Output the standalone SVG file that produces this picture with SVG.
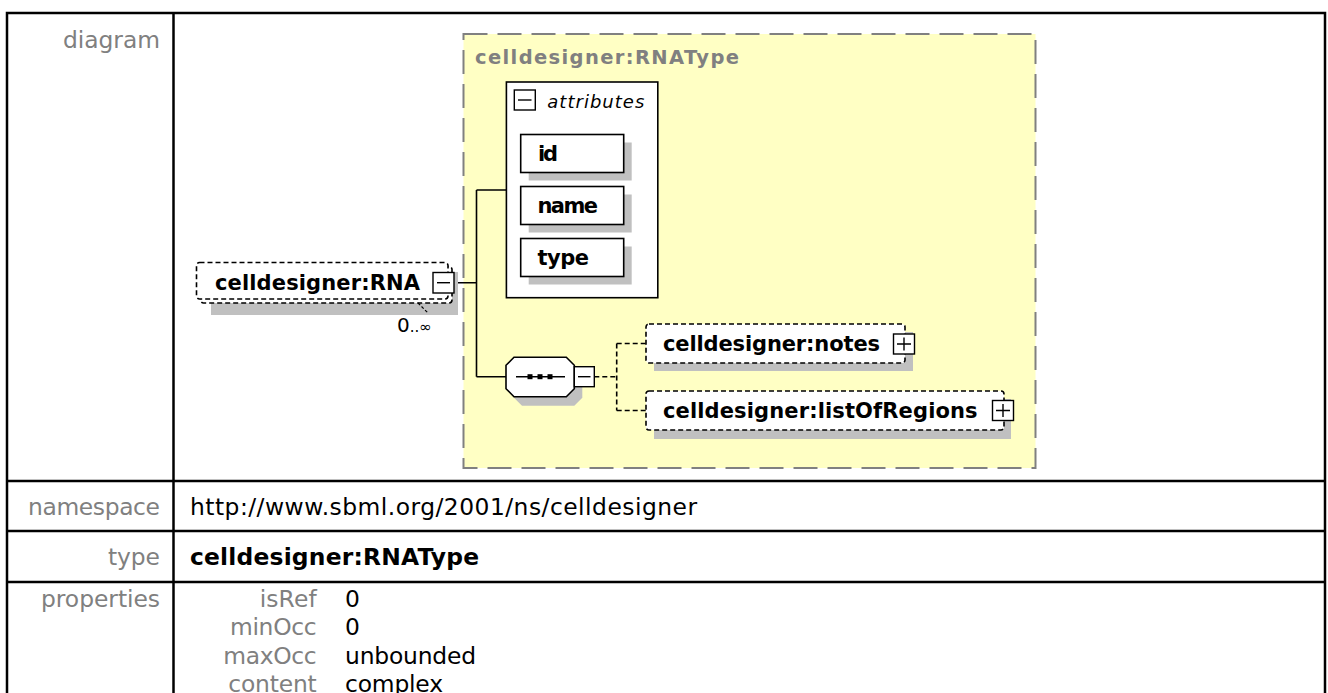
<svg xmlns="http://www.w3.org/2000/svg" width="1328" height="693" viewBox="0 0 1328 693">
<style>
.lbl{font-family:"DejaVu Sans",Verdana,sans-serif;font-size:23.4px;fill:#808080}
.val{font-family:"DejaVu Sans",Verdana,sans-serif;font-size:23.4px;fill:#000}
.grid{stroke:#000;stroke-width:2.5;fill:none}
.el{fill:#fff;stroke:#000;stroke-width:1.6;stroke-dasharray:5 3}
.box{fill:#fff;stroke:#000;stroke-width:1.6}
.shadow{fill:#c0c0c0}
.en{font-family:"DejaVu Sans",sans-serif;font-weight:bold;font-size:21px;fill:#000}
.conn{stroke:#000;stroke-width:1.6;fill:none}
.dconn{stroke:#000;stroke-width:1.6;fill:none;stroke-dasharray:5 3}
.icon{fill:#fff;stroke:#000;stroke-width:1.4}
.iline{stroke:#000;stroke-width:1.4}
</style>
<rect width="1328" height="693" fill="#fff"/>
<g id="table">
<rect class="grid" x="7" y="13" width="1318" height="700"/>
<line class="grid" x1="173.5" y1="13" x2="173.5" y2="693"/>
<line class="grid" x1="7" y1="481" x2="1325" y2="481"/>
<line class="grid" x1="7" y1="531" x2="1325" y2="531"/>
<line class="grid" x1="7" y1="582" x2="1325" y2="582"/>
<text class="lbl" x="160" y="48" text-anchor="end" textLength="97">diagram</text>
<text class="lbl" x="160" y="515" text-anchor="end" textLength="132">namespace</text>
<text class="lbl" x="160" y="565" text-anchor="end" textLength="52">type</text>
<text class="lbl" x="160" y="607" text-anchor="end" textLength="119">properties</text>
<text class="val" x="190" y="515" textLength="507">http://www.sbml.org/2001/ns/celldesigner</text>
<text class="val" x="190" y="565" font-weight="bold" textLength="289">celldesigner:RNAType</text>
<text class="lbl" x="316.7" y="607" text-anchor="end" textLength="57">isRef</text>
<text class="lbl" x="316.7" y="635.3" text-anchor="end" textLength="86.8">minOcc</text>
<text class="lbl" x="316.7" y="663.6" text-anchor="end" textLength="93.5">maxOcc</text>
<text class="lbl" x="316.7" y="692" text-anchor="end" textLength="88.4">content</text>
<text class="val" x="345" y="607">0</text>
<text class="val" x="345" y="635.3">0</text>
<text class="val" x="345" y="663.6" textLength="131">unbounded</text>
<text class="val" x="345" y="692" textLength="98">complex</text>
</g>
<g id="complexType">
<rect x="463.5" y="34" width="572" height="434" fill="#ffffc4" stroke="#808080" stroke-width="2" stroke-dasharray="24 10"/>
<text x="475" y="64" font-family="DejaVu Sans,sans-serif" font-weight="bold" font-size="19.5" fill="#808080" textLength="264">celldesigner:RNAType</text>
</g>
<g id="connectors">
<path class="conn" d="M454 282.7H476.5M476.5 190V376.7M476.5 190H506.4M476.5 376.7H506"/>
<path class="dconn" d="M594.3 376.7H616.7M616.7 343.5V410.5M616.7 343.5H646M616.7 410.5H646"/>
</g>
<g id="RNA">
<rect class="shadow" x="211" y="272" width="247" height="43"/>
<rect class="el" x="200.5" y="266.5" width="251.5" height="36.5" rx="3"/>
<rect class="el" x="196.5" y="262.5" width="251.5" height="36.5" rx="3"/>
<text class="en" x="215" y="290" textLength="205">celldesigner:RNA</text>
<rect class="icon" x="433" y="272.5" width="21" height="20.5"/>
<line class="iline" x1="437" y1="282.7" x2="450" y2="282.7"/>
<line x1="418" y1="303" x2="428" y2="313" stroke="#000" stroke-width="1.2" stroke-dasharray="3 2"/>
<text x="397" y="332" font-family="DejaVu Sans,sans-serif" font-size="20" fill="#000">0<tspan font-size="15">..∞</tspan></text>
</g>
<g id="attributes">
<rect class="box" x="506.4" y="82" width="151.4" height="215.7"/>
<rect class="icon" x="514.3" y="90" width="21" height="20"/>
<line class="iline" x1="518" y1="100" x2="531.5" y2="100"/>
<text x="547.3" y="108.3" font-family="DejaVu Sans,sans-serif" font-style="italic" font-size="18" fill="#000" textLength="97">attributes</text>
</g>
<g id="attr-id">
<rect class="shadow" x="528.7" y="142.5" width="103" height="38"/>
<rect class="box" x="520.7" y="134.5" width="103" height="38"/>
<text class="en" x="538" y="161" textLength="20">id</text>
</g>
<g id="attr-name">
<rect class="shadow" x="528.7" y="194.5" width="103" height="38"/>
<rect class="box" x="520.7" y="186.5" width="103" height="38"/>
<text class="en" x="537.4" y="213" textLength="60.6">name</text>
</g>
<g id="attr-type">
<rect class="shadow" x="528.7" y="246.5" width="103" height="38"/>
<rect class="box" x="520.7" y="238.5" width="103" height="38"/>
<text class="en" x="537.4" y="265" textLength="51.7">type</text>
</g>
<g id="sequence">
<polygon class="shadow" points="522,366.3 574.3,366.3 582.3,374.3 582.3,397.7 574.3,405.7 522,405.7 514,397.7 514,374.3"/>
<polygon class="box" points="514,357.3 566.3,357.3 574.3,365.3 574.3,388.7 566.3,396.7 514,396.7 506,388.7 506,365.3"/>
<line class="iline" x1="516" y1="376.7" x2="565" y2="376.7"/>
<rect x="527.5" y="374.2" width="5" height="5" fill="#000"/>
<rect x="537.5" y="374.2" width="5" height="5" fill="#000"/>
<rect x="547.5" y="374.2" width="5" height="5" fill="#000"/>
<rect class="icon" x="574.3" y="366.7" width="20" height="20"/>
<line class="iline" x1="578" y1="376.7" x2="590.5" y2="376.7"/>
</g>
<g id="notes">
<rect class="shadow" x="654" y="332" width="259" height="39"/>
<rect class="el" x="646" y="324" width="259" height="39" rx="3"/>
<text class="en" x="663" y="351" textLength="217">celldesigner:notes</text>
<rect class="icon" x="893.5" y="334" width="21" height="20"/>
<path class="iline" d="M897 344H911M904 337.5V350.5"/>
</g>
<g id="listOfRegions">
<rect class="shadow" x="654" y="399" width="357" height="40"/>
<rect class="el" x="646" y="391" width="358" height="39" rx="3"/>
<text class="en" x="663" y="418" textLength="314.6">celldesigner:listOfRegions</text>
<rect class="icon" x="992.5" y="400.5" width="21" height="20"/>
<path class="iline" d="M996 410.5H1010M1003 404V417"/>
</g>
</svg>
